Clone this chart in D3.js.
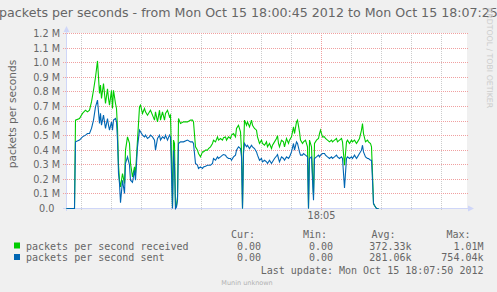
<!DOCTYPE html>
<html>
<head>
<meta charset="utf-8">
<script src="https://cdn.jsdelivr.net/npm/d3@7"></script>
<style>
  body { margin: 0; background: #f0f0f0; }
  svg { display: block; }
  text { fill: #666666; }
</style>
</head>
<body>
<div class="main-container"></div>
<script>
// seconds after 18:00:45, packets/s in thousands
var seconds = [0, 8, 9, 13, 16, 19, 21, 23, 25, 27, 29, 31, 33, 34, 35, 37, 38, 39, 41, 42, 43, 45, 46, 47, 49, 50,
  51, 52, 53, 54, 56, 58, 59, 61, 63, 64, 66, 68, 69, 71, 73, 74, 76, 78, 79, 81, 83, 84, 86, 88, 89, 91, 93, 94, 96, 98, 99, 101, 103, 104,
  105, 106, 107, 108, 109, 110, 111, 112, 114, 117, 121, 124, 126, 127, 129, 131, 132, 134, 136, 137, 139, 141, 142, 144, 146, 147, 149, 151, 152, 154, 156,
  157, 159, 160, 162, 164, 165, 167, 169, 170, 172, 174, 175, 176, 177, 178, 180, 181, 183, 185, 186, 188, 190, 191, 193, 195, 196, 198, 200, 201, 203, 205, 206, 208, 210,
  211, 212, 213, 215, 217, 218, 220, 222, 223, 225, 227, 228, 230, 231, 233, 234, 236, 237, 239, 241, 242, 243, 245, 246, 247, 248, 250, 252, 253, 254, 256, 258, 259, 261,
  263, 265, 266, 268, 270, 271, 273, 275, 276, 278, 280, 281, 283, 285, 286, 288, 290, 291, 293, 295, 296, 297, 299, 301, 302, 304, 305, 306, 307, 308, 310, 312];
var received = [0, 0, 606, 617, 652, 674, 663, 674, 731, 811, 900, 1012, 789, 846, 754, 857, 789, 720, 820, 754, 709, 811, 686, 811, 720, 686,
  550, 300, 194, 148, 240, 171, 400, 491, 446, 309, 217, 285, 240, 469, 697, 709, 652, 686, 663, 640, 663, 674, 640, 606, 663, 594, 674, 606, 663, 606, 652, 674, 628, 640,
  354, 5, 469, 446, 10, 20, 80, 617, 583, 594, 594, 606, 606, 594, 423, 400, 377, 354, 388, 388, 400, 400, 411, 423, 446, 469, 457, 491, 469, 480, 469,
  485, 491, 469, 491, 480, 503, 514, 491, 549, 571, 526, 400, 0, 400, 606, 571, 594, 560, 606, 571, 549, 537, 491, 446, 469, 446, 434, 457, 423, 446, 411, 434, 457, 480,
  500, 446, 423, 469, 457, 423, 480, 446, 469, 491, 560, 514, 594, 606, 526, 469, 446, 457, 469, 423, 0, 469, 423, 240, 90, 446, 469, 480, 514, 537, 491, 491, 480, 469,
  457, 469, 457, 469, 480, 457, 469, 480, 457, 297, 457, 469, 446, 469, 457, 469, 446, 457, 480, 537, 583, 514, 457, 469, 457, 446, 423, 240, 34, 20, 0, 0];
var sent = [0, 0, 457, 469, 491, 503, 514, 514, 549, 606, 697, 743, 583, 652, 571, 640, 594, 549, 617, 571, 537, 594, 537, 606, 617, 594,
  470, 240, 171, 40, 194, 103, 309, 354, 297, 194, 180, 262, 194, 423, 537, 526, 503, 491, 503, 480, 491, 503, 491, 469, 400, 480, 503, 469, 491, 480, 503, 469, 503, 490,
  240, 0, 400, 285, 0, 10, 57, 446, 457, 457, 469, 457, 457, 446, 309, 297, 274, 285, 274, 285, 290, 297, 297, 297, 309, 343, 331, 354, 343, 354, 366,
  370, 366, 354, 343, 343, 331, 354, 366, 400, 423, 411, 354, 0, 377, 446, 423, 434, 411, 434, 423, 411, 388, 366, 331, 343, 320, 331, 320, 309, 331, 309, 320, 343, 360,
  370, 343, 320, 354, 343, 331, 354, 343, 354, 388, 446, 400, 457, 446, 388, 366, 366, 377, 366, 354, 0, 343, 354, 194, 57, 343, 354, 366, 354, 366, 377, 377, 366, 354,
  343, 354, 343, 354, 366, 354, 343, 354, 343, 140, 343, 354, 343, 354, 343, 366, 343, 354, 377, 400, 434, 388, 354, 343, 343, 331, 331, 194, 34, 20, 0, 0];

var yTicks = [0, 100, 200, 300, 400, 500, 600, 700, 800, 900, 1000, 1100, 1200];
var legendNames = ["packets per second received", "packets per second sent"];
var legendColors = ["#00cc00", "#0066b3"];
var legendCur = ["0.00", "0.00"];
var legendMin = ["0.00", "0.00"];
var legendAvg = ["372.33k", "281.06k"];
var legendMax = ["1.01M", "754.04k"];

var W = 497, H = 292;
var start = new Date(2012, 9, 15, 18, 0, 45);
var end = new Date(2012, 9, 15, 18, 7, 25);
var x = d3.scaleTime().domain([start, end]).range([66.5, 466.5]);
var y = d3.scaleLinear().domain([0, 1200]).range([208.5, 33.5]);
function py(v) { return Math.round(y(v) - 0.5) + 0.5; }

var svg = d3.select(".main-container").append("svg")
  .attr("width", W).attr("height", H)
  .style("font-family", "'DejaVu Sans', sans-serif");

svg.append("rect").attr("width", W).attr("height", H).attr("fill", "#f0f0f0");
svg.append("rect").attr("x", 67).attr("y", 33).attr("width", 400).attr("height", 175).attr("fill", "#ffffff");

// vertical grid, every 30 s
var minor = d3.timeSecond.every(30).range(start, end);
svg.selectAll(".vgrid").data(minor).enter().append("line")
  .attr("x1", function (d) { return Math.round(x(d) - 0.5) + 0.5; })
  .attr("x2", function (d) { return Math.round(x(d) - 0.5) + 0.5; })
  .attr("y1", 33).attr("y2", 211)
  .attr("stroke", function (d) { return d.getMinutes() === 5 && d.getSeconds() === 0 ? "#f0a0a0" : "#cccccc"; })
  .attr("stroke-dasharray", "1,1");

// horizontal grid
svg.selectAll(".hgrid").data(yTicks.slice(1)).enter().append("line")
  .attr("x1", 63).attr("x2", 469)
  .attr("y1", py).attr("y2", py)
  .attr("stroke", "#f0a0a0")
  .attr("stroke-dasharray", "1,1");

// y labels
svg.selectAll(".ylab").data(yTicks).enter().append("text")
  .attr("x", function (d) { return d === 0 ? 54.5 : 60; })
  .attr("y", function (d) { return py(d) + 3.5; })
  .attr("text-anchor", "end")
  .style("font-size", "9.7px")
  .text(function (d) { return d === 0 ? "0.0" : (d / 1000).toFixed(1) + " M"; });

// x label
var major = new Date(2012, 9, 15, 18, 5, 0);
svg.append("text").attr("x", x(major)).attr("y", 218.5)
  .attr("text-anchor", "middle").style("font-size", "9.7px")
  .text(d3.timeFormat("%H:%M")(major));

// axes with arrows
svg.append("line").attr("x1", 63).attr("x2", 470).attr("y1", 208.5).attr("y2", 208.5).attr("stroke", "#cfd6f8");
svg.append("line").attr("x1", 66.5).attr("x2", 66.5).attr("y1", 211).attr("y2", 30).attr("stroke", "#cfd6f8");
svg.append("path").attr("d", "M468,205.5 L474,208.5 L468,211.5 Z").attr("fill", "#cfd6f8");
svg.append("path").attr("d", "M63.5,32 L66.5,26 L69.5,32 Z").attr("fill", "#cfd6f8");

// series
function series(vals) {
  return seconds.map(function (s, i) { return { t: d3.timeSecond.offset(start, s), v: vals[i] }; });
}
var line = d3.line().x(function (d) { return x(d.t); }).y(function (d) { return y(d.v); });
[received, sent].forEach(function (vals, i) {
  svg.append("path").datum(series(vals))
    .attr("d", line)
    .attr("fill", "none")
    .attr("stroke", legendColors[i])
    .attr("stroke-width", 1.1);
});

// title
var title = svg.append("text").attr("x", 248.5).attr("y", 17)
  .attr("text-anchor", "middle").style("font-size", "12px")
  .text("packets per seconds - from Mon Oct 15 18:00:45 2012 to Mon Oct 15 18:07:25");
var tw = title.node().getComputedTextLength();
title.style("font-size", (12 * 499 / tw) + "px");

// y axis label
svg.append("text").attr("transform", "translate(15.5,114) rotate(-90)")
  .attr("text-anchor", "middle").style("font-size", "10.6px")
  .text("packets per seconds");

// watermark
svg.append("text").attr("transform", "translate(487,58) rotate(90)")
  .attr("text-anchor", "middle").style("font-size", "7.8px").style("fill", "#cccccc")
  .text("RRDTOOL / TOBI OETIKER");

// legend
var mono = "'DejaVu Sans Mono', monospace";
var lg = svg.append("g").style("font-family", mono).style("font-size", "10px");
var heads = [["Cur:", 231], ["Min:", 303], ["Avg:", 371.5], ["Max:", 446.5]];
lg.selectAll(".head").data(heads).enter().append("text")
  .attr("x", function (d) { return d[1]; }).attr("y", 237.5).text(function (d) { return d[0]; });
var rows = lg.selectAll(".row").data(legendNames).enter().append("g")
  .attr("transform", function (d, i) { return "translate(0," + (249.5 + i * 11.5) + ")"; });
rows.append("rect").attr("x", 14).attr("y", -7).attr("width", 6).attr("height", 6)
  .attr("fill", function (d, i) { return legendColors[i]; });
rows.append("text").attr("x", 26).text(function (d) { return d; });
var cols = [[legendCur, 261], [legendMin, 333], [legendAvg, 411.5], [legendMax, 483.5]];
cols.forEach(function (c) {
  rows.append("text").attr("x", c[1]).attr("text-anchor", "end")
    .text(function (d, i) { return c[0][i]; });
});
lg.append("text").attr("x", 483.5).attr("y", 273.5).attr("text-anchor", "end")
  .text("Last update: Mon Oct 15 18:07:50 2012");

svg.append("text").attr("x", 247).attr("y", 284.5).attr("text-anchor", "middle")
  .style("font-size", "6.5px").style("fill", "#b0b0b0")
  .text("Munin unknown");
</script>
</body>
</html>
